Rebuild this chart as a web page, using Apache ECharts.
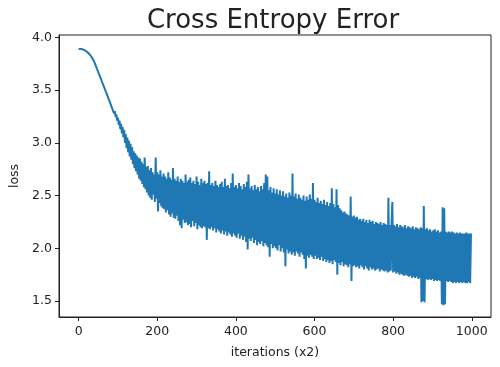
<!DOCTYPE html>
<html>
<head>
<meta charset="utf-8">
<script src="https://cdn.jsdelivr.net/npm/echarts@6/dist/echarts.min.js"></script>
<style>html,body{margin:0;padding:0;background:#fff}#c{width:500px;height:367px}</style>
</head>
<body>
<div id="c"></div>
<script>
const titleText = "Cross Entropy Error";
const xName = "iterations (x2)";
const yName = "loss";
const xTicks = [0, 200, 400, 600, 800, 1000];
const yTicks = [1.5, 2.0, 2.5, 3.0, 3.5, 4.0];
const iterStep = 2;
const loss = [
3.89,3.89,3.89,3.889,3.888,3.886,3.884,3.881,3.877,3.872,
3.867,3.861,3.854,3.846,3.837,3.828,3.818,3.807,3.795,3.781,
3.765,3.747,3.728,3.709,3.69,3.671,3.651,3.632,3.613,3.593,
3.574,3.555,3.536,3.516,3.497,3.477,3.462,3.44,3.432,3.40,
3.395,3.36,3.365,3.32,3.335,3.28,3.30,3.245,3.27,3.21,
3.24,3.17,3.21,3.13,3.18,3.09,3.15,3.05,3.12,3.00,
3.08,2.95,3.05,2.91,3.02,2.87,2.99,2.84,2.96,2.80,
2.92,2.76,2.90,2.73,2.88,2.70,2.86,2.66,2.85,2.64,
2.82,2.61,2.80,2.58,2.86,2.56,2.77,2.53,2.78,2.50,
2.74,2.48,2.76,2.46,2.72,2.51,2.70,2.44,2.86,2.47,
2.72,2.35,2.70,2.43,2.74,2.40,2.68,2.38,2.71,2.37,
2.68,2.34,2.66,2.36,2.72,2.32,2.67,2.30,2.65,2.33,
2.76,2.29,2.66,2.28,2.64,2.31,2.68,2.26,2.63,2.22,
2.66,2.19,2.64,2.27,2.62,2.24,2.70,2.25,2.63,2.22,
2.65,2.23,2.67,2.20,2.62,2.26,2.64,2.21,2.61,2.24,
2.68,2.18,2.63,2.22,2.60,2.20,2.66,2.19,2.62,2.21,
2.64,2.20,2.61,2.08,2.62,2.19,2.73,2.18,2.60,2.20,
2.62,2.17,2.59,2.19,2.64,2.15,2.60,2.18,2.58,2.16,
2.61,2.14,2.63,2.17,2.58,2.13,2.66,2.16,2.59,2.12,
2.60,2.15,2.57,2.13,2.62,2.11,2.71,2.14,2.58,2.12,
2.60,2.10,2.57,2.14,2.62,2.09,2.59,2.12,2.56,2.08,
2.61,2.11,2.58,2.06,2.63,1.99,2.70,2.09,2.57,2.07,
2.59,2.10,2.55,2.05,2.60,2.08,2.56,2.03,2.58,2.06,
2.54,2.04,2.59,2.07,2.56,2.02,2.62,2.05,2.70,2.03,
2.68,2.01,2.55,1.92,2.58,2.04,2.53,2.00,2.57,2.02,
2.52,2.00,2.56,1.98,2.51,2.03,2.55,1.97,2.50,2.00,
2.54,1.96,2.49,1.83,2.52,1.99,2.48,1.95,2.53,1.97,
2.50,1.94,2.71,1.96,2.49,1.93,2.52,1.97,2.47,1.95,
2.51,1.92,2.48,1.96,2.46,1.94,2.50,1.90,2.45,1.81,
2.49,1.93,2.46,1.91,2.51,1.94,2.47,1.92,2.62,1.90,
2.46,1.93,2.44,1.90,2.48,1.91,2.43,1.89,2.45,1.92,
2.42,1.88,2.46,1.90,2.41,1.87,2.44,1.89,2.40,1.86,
2.43,1.88,2.57,1.85,2.42,1.89,2.39,1.87,2.56,1.75,
2.41,1.86,2.38,1.84,2.36,1.87,2.34,1.83,2.35,1.85,
2.33,1.84,2.32,1.82,2.31,1.85,2.49,1.69,2.30,1.83,
2.31,1.84,2.29,1.82,2.30,1.83,2.27,1.81,2.28,1.84,
2.26,1.82,2.28,1.80,2.25,1.83,2.27,1.81,2.24,1.79,
2.27,1.82,2.25,1.80,2.26,1.81,2.23,1.79,2.25,1.80,
2.24,1.81,2.23,1.78,2.25,1.80,2.22,1.79,2.24,1.78,
2.23,1.79,2.22,1.77,2.48,1.78,2.22,1.79,2.23,2.44,
1.77,2.22,1.78,2.21,1.76,2.23,1.77,2.20,1.75,2.22,
1.76,2.21,1.75,2.20,1.74,2.22,1.75,2.19,1.74,2.21,
1.73,2.20,1.74,2.19,1.72,2.21,1.73,2.18,1.72,2.20,
1.73,2.19,1.71,2.18,1.72,2.20,1.49,2.19,1.50,2.40,
1.49,2.18,1.71,2.19,1.70,2.17,1.71,2.18,1.70,2.16,
1.71,2.17,1.69,2.18,1.70,2.16,1.69,2.17,1.70,2.15,
1.69,2.16,1.47,2.39,1.46,2.38,1.47,2.16,1.69,2.15,
1.68,2.16,1.69,2.15,1.68,2.16,1.67,2.15,1.68,2.14,
1.67,2.15,1.68,2.14,1.67,2.15,1.68,2.14,1.67,2.14,
1.68,2.14,1.67,2.15,1.67,2.14,1.68,2.14,1.67,2.14
];

const chart = echarts.init(document.getElementById('c'), null, {renderer: 'canvas'});
const font = 'DejaVu Sans';
const ink = '#222';
chart.setOption({
  animation: false,
  backgroundColor: '#fff',
  title: {
    text: titleText, left: 268, top: 3, textAlign: 'center',
    textStyle: {fontFamily: font, fontSize: 26, fontWeight: 'normal', color: ink}
  },
  grid: {left: 57, top: 35, right: 9, bottom: 50, show: true, borderColor: ink, borderWidth: 1, backgroundColor: 'transparent'},
  xAxis: {
    type: 'value', min: -49.95, max: 1048.95,
    name: xName, nameLocation: 'middle', nameGap: 29,
    nameTextStyle: {fontFamily: font, fontSize: 12.5, color: ink},
    axisLine: {show: true, onZero: false, lineStyle: {color: ink, width: 1}},
    axisTick: {show: true, length: 4, customValues: xTicks, lineStyle: {color: ink}},
    axisLabel: {customValues: xTicks, margin: 8, fontFamily: font, fontSize: 12.5, color: ink,
      formatter: v => String(v)},
    splitLine: {show: false}
  },
  yAxis: {
    type: 'value', min: 1.349, max: 4.022,
    name: yName, nameLocation: 'middle', nameGap: 38, nameRotate: 90,
    nameTextStyle: {fontFamily: font, fontSize: 12.5, color: ink},
    axisLine: {show: true, onZero: false, lineStyle: {color: ink, width: 1}},
    axisTick: {show: true, length: 4, customValues: yTicks, lineStyle: {color: ink}},
    axisLabel: {customValues: yTicks, margin: 7, fontFamily: font, fontSize: 12.5, color: ink,
      formatter: v => v.toFixed(1)},
    splitLine: {show: false}
  },
  series: [{
    type: 'line',
    data: loss.map((v, i) => [i * iterStep, v]),
    showSymbol: false,
    symbol: 'none',
    lineStyle: {color: '#1f77b4', width: 2},
    itemStyle: {color: '#1f77b4'}
  }]
});
</script>
</body>
</html>
